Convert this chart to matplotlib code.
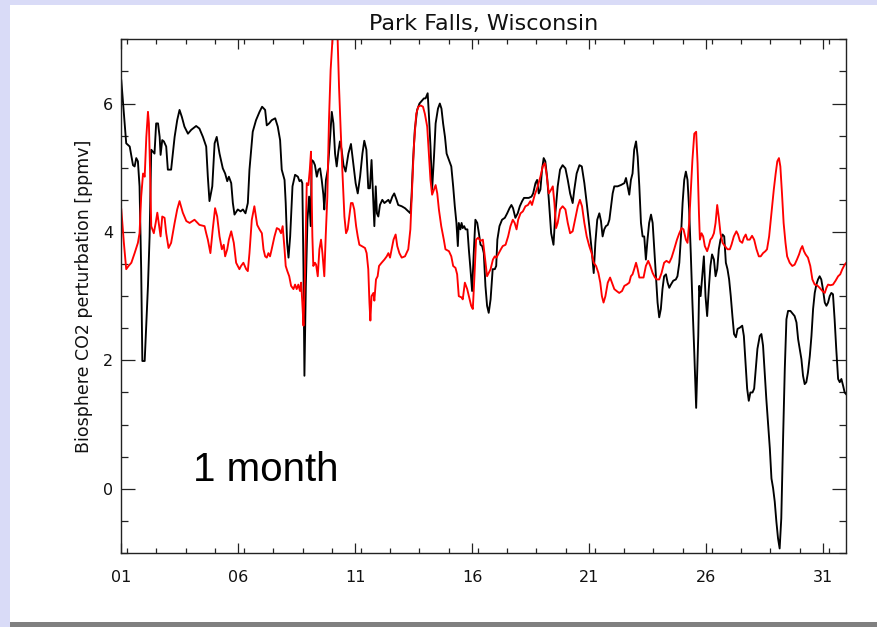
#!/usr/bin/env python3
"""
Park Falls, Wisconsin: biosphere CO2 perturbation over one month,
two hourly model series (black / red).
"""
import numpy as np
import matplotlib
matplotlib.use("Agg")
import matplotlib.pyplot as plt
from matplotlib.patches import Rectangle
from matplotlib.ticker import MultipleLocator, FixedLocator

plt.rcParams["font.family"] = ["DejaVu Sans"]

TITLE = "Park Falls, Wisconsin"
YLABEL = "Biosphere CO2 perturbation [ppmv]"
PERIOD_LABEL = "1 month"

X_TICKS = [1, 6, 11, 16, 21, 26, 31]
X_TICK_LABELS = ["01", "06", "11", "16", "21", "26", "31"]
Y_TICKS = [0, 2, 4, 6]

# (day of month, ppmv)
BLACK = [
    (1.00, 6.36), (1.21, 5.38), (1.36, 5.33), (1.50, 5.04), (1.57, 5.02), (1.64, 5.15),
    (1.71, 5.10), (1.78, 4.71), (1.85, 3.42), (1.90, 1.99), (2.00, 1.99), (2.14, 3.16),
    (2.21, 3.93), (2.28, 5.28), (2.35, 5.25), (2.42, 5.22), (2.49, 5.69), (2.57, 5.69),
    (2.64, 5.48), (2.68, 5.20), (2.75, 5.43), (2.82, 5.41), (2.92, 5.33), (2.99, 4.97),
    (3.13, 4.97), (3.28, 5.48), (3.39, 5.74), (3.49, 5.90), (3.59, 5.79), (3.70, 5.64),
    (3.85, 5.53), (3.99, 5.59), (4.20, 5.65), (4.34, 5.61), (4.49, 5.48), (4.63, 5.33),
    (4.70, 4.86), (4.77, 4.48), (4.89, 4.71), (4.99, 5.38), (5.08, 5.48), (5.20, 5.22),
    (5.34, 4.99), (5.44, 4.91), (5.53, 4.79), (5.60, 4.86), (5.70, 4.76), (5.77, 4.45),
    (5.84, 4.27), (5.98, 4.35), (6.10, 4.32), (6.20, 4.35), (6.31, 4.29), (6.41, 4.45),
    (6.48, 4.97), (6.62, 5.56), (6.76, 5.74), (6.91, 5.87), (7.02, 5.95),
    (7.15, 5.90), (7.22, 5.66), (7.32, 5.69), (7.43, 5.74), (7.58, 5.77), (7.69, 5.64),
    (7.79, 5.43), (7.86, 4.97), (7.98, 4.81), (8.03, 4.45), (8.09, 3.83), (8.15, 3.60),
    (8.22, 3.93), (8.32, 4.71), (8.43, 4.89), (8.55, 4.86), (8.62, 4.79), (8.69, 4.81),
    (8.74, 4.76), (8.79, 3.42), (8.83, 1.76), (8.89, 3.16), (8.96, 4.19), (9.03, 4.55),
    (9.10, 4.09), (9.14, 5.12), (9.21, 5.10), (9.28, 5.04), (9.36, 4.86), (9.43, 4.97),
    (9.50, 4.99), (9.57, 4.81), (9.64, 4.58), (9.68, 4.35), (9.75, 4.81), (9.83, 4.97),
    (9.93, 5.48), (10.00, 5.87), (10.07, 5.69), (10.14, 5.22), (10.21, 5.02), (10.28, 5.25),
    (10.35, 5.41), (10.42, 5.28), (10.50, 5.04), (10.59, 4.94), (10.71, 5.22), (10.82, 5.37),
    (10.92, 5.07), (11.02, 4.76), (11.11, 4.60), (11.21, 4.86), (11.31, 5.22), (11.39, 5.42),
    (11.48, 5.28), (11.56, 4.68), (11.63, 4.68), (11.70, 5.12), (11.78, 4.45), (11.82, 4.09),
    (11.88, 4.71), (11.93, 4.29), (11.99, 4.24), (12.06, 4.42), (12.16, 4.50), (12.25, 4.45),
    (12.35, 4.48), (12.42, 4.50), (12.49, 4.45), (12.59, 4.55), (12.67, 4.60), (12.77, 4.50),
    (12.84, 4.42), (12.99, 4.40), (13.13, 4.37),
    (13.27, 4.32), (13.36, 4.29), (13.41, 4.55), (13.47, 5.07), (13.55, 5.59), (13.65, 5.90),
    (13.75, 6.00), (13.87, 6.05), (13.94, 6.08), (14.01, 6.08), (14.10, 6.16), (14.15, 5.84),
    (14.22, 5.33), (14.29, 4.66), (14.37, 5.17), (14.44, 5.69), (14.54, 5.92), (14.62, 6.00),
    (14.69, 5.92), (14.76, 5.69), (14.84, 5.48), (14.91, 5.22), (15.01, 5.12), (15.11, 5.02),
    (15.19, 4.71), (15.26, 4.40), (15.33, 4.14), (15.39, 3.78), (15.43, 4.14), (15.50, 4.04),
    (15.55, 4.14), (15.60, 4.06), (15.66, 4.09), (15.72, 4.04), (15.80, 4.04), (15.86, 3.73),
    (15.93, 3.42), (16.00, 3.08), (16.07, 3.67), (16.14, 4.19), (16.22, 4.14), (16.29, 3.98),
    (16.36, 3.80), (16.43, 3.78), (16.50, 3.67), (16.57, 3.16), (16.64, 2.85), (16.71, 2.74),
    (16.79, 2.95), (16.88, 3.42), (16.97, 3.42), (17.03, 3.47), (17.08, 3.88), (17.17, 4.09),
    (17.28, 4.19), (17.40, 4.22), (17.50, 4.29), (17.60, 4.37), (17.68, 4.42), (17.75, 4.37),
    (17.85, 4.22), (17.95, 4.29), (18.04, 4.40), (18.14, 4.48), (18.22, 4.53), (18.31, 4.53),
    (18.42, 4.53), (18.54, 4.55), (18.61, 4.60), (18.71, 4.76), (18.78, 4.81), (18.85, 4.60),
    (18.92, 4.66), (18.99, 4.97), (19.06, 5.15), (19.13, 5.10), (19.21, 4.84), (19.28, 4.50),
    (19.38, 3.98), (19.48, 3.80), (19.56, 4.29), (19.66, 4.71), (19.76, 4.97), (19.87, 5.04),
    (19.99, 4.99), (20.09, 4.81), (20.19, 4.60), (20.30, 4.45), (20.37, 4.66), (20.47, 4.91),
    (20.59, 5.04), (20.69, 5.02), (20.80, 4.76), (20.90, 4.45), (21.01, 4.09), (21.11, 3.73),
    (21.20, 3.36), (21.27, 3.83), (21.35, 4.19), (21.44, 4.29), (21.51, 4.17), (21.58, 3.93),
    (21.65, 4.04), (21.72, 4.09), (21.80, 4.11), (21.87, 4.19), (21.94, 4.40), (22.01, 4.60),
    (22.08, 4.71), (22.22, 4.71), (22.36, 4.73), (22.51, 4.76), (22.58, 4.84), (22.65, 4.71),
    (22.72, 4.58), (22.79, 4.81), (22.86, 4.91), (22.93, 5.28), (23.01, 5.41), (23.08, 5.17),
    (23.15, 4.71), (23.22, 4.14), (23.29, 3.93), (23.36, 3.93), (23.43, 3.57), (23.50, 3.88),
    (23.57, 4.14), (23.65, 4.27), (23.72, 4.14), (23.79, 3.73), (23.86, 3.31), (23.93, 2.90),
    (24.00, 2.67), (24.07, 2.80), (24.14, 3.11), (24.21, 3.31), (24.29, 3.34), (24.36, 3.21),
    (24.43, 3.13), (24.50, 3.18), (24.60, 3.24), (24.71, 3.26), (24.78, 3.31), (24.86, 3.52),
    (24.93, 3.93), (25.00, 4.45), (25.07, 4.81), (25.14, 4.94), (25.21, 4.81), (25.28, 4.35),
    (25.35, 3.67), (25.42, 2.90), (25.50, 2.12), (25.58, 1.26),
    (25.67, 2.38), (25.71, 3.16), (25.77, 3.00), (25.84, 3.31), (25.91, 3.62), (25.98, 3.00),
    (26.05, 2.69), (26.12, 3.11), (26.19, 3.47), (26.26, 3.65), (26.34, 3.57), (26.41, 3.31),
    (26.48, 3.42), (26.55, 3.73), (26.62, 3.88), (26.71, 3.96), (26.78, 3.93), (26.85, 3.52),
    (26.92, 3.42), (26.99, 3.26), (27.06, 3.00), (27.13, 2.69), (27.20, 2.41), (27.28, 2.36),
    (27.35, 2.49), (27.45, 2.51), (27.55, 2.54), (27.62, 2.38), (27.69, 1.97), (27.76, 1.56),
    (27.83, 1.37), (27.90, 1.50), (27.99, 1.50), (28.06, 1.56), (28.13, 1.87), (28.20, 2.18),
    (28.30, 2.38), (28.37, 2.41), (28.44, 2.23), (28.51, 1.81), (28.58, 1.40), (28.66, 0.99),
    (28.73, 0.63), (28.80, 0.16), (28.87, 0.01), (28.94, -0.20), (29.01, -0.51), (29.08, -0.77),
    (29.15, -0.93), (29.22, -0.46), (29.30, 0.83), (29.37, 1.87), (29.44, 2.64), (29.51, 2.77),
    (29.61, 2.77), (29.72, 2.72), (29.79, 2.69), (29.87, 2.59), (29.94, 2.33), (30.01, 2.18),
    (30.08, 2.02), (30.15, 1.76), (30.22, 1.63), (30.29, 1.66), (30.36, 1.81), (30.44, 2.07),
    (30.51, 2.38), (30.58, 2.80), (30.65, 3.05), (30.72, 3.18), (30.79, 3.26), (30.86, 3.31),
    (30.93, 3.26), (31.00, 3.11), (31.08, 2.90), (31.15, 2.85), (31.22, 2.90), (31.29, 3.00),
    (31.36, 3.05), (31.43, 3.03), (31.50, 2.64), (31.57, 2.18), (31.65, 1.71), (31.72, 1.66),
    (31.79, 1.71), (31.86, 1.61), (31.93, 1.50), (32.00, 1.47),
]

RED = [
    (1.00, 4.35), (1.11, 3.83), (1.21, 3.42), (1.31, 3.47), (1.43, 3.52), (1.57, 3.67),
    (1.71, 3.83), (1.78, 3.98), (1.85, 4.55), (1.93, 4.91), (2.00, 4.86), (2.07, 5.48),
    (2.14, 5.87), (2.18, 5.69), (2.24, 4.81), (2.28, 4.09), (2.39, 3.98), (2.47, 4.14),
    (2.54, 4.30), (2.61, 4.11), (2.68, 3.93), (2.75, 4.24), (2.85, 4.22), (2.92, 3.98),
    (3.02, 3.75), (3.13, 3.83), (3.28, 4.14), (3.39, 4.35), (3.49, 4.48), (3.63, 4.30),
    (3.78, 4.17), (3.92, 4.14), (4.13, 4.19), (4.34, 4.11), (4.56, 4.09), (4.63, 3.98),
    (4.70, 3.88), (4.81, 3.67), (4.91, 4.04), (5.01, 4.37), (5.10, 4.24), (5.20, 3.93),
    (5.30, 3.73), (5.38, 3.80), (5.44, 3.62), (5.53, 3.73), (5.60, 3.88), (5.70, 4.01),
    (5.81, 3.83), (5.91, 3.52), (6.05, 3.42), (6.12, 3.47), (6.22, 3.52), (6.34, 3.42),
    (6.41, 3.39), (6.48, 3.67), (6.58, 4.19), (6.69, 4.40), (6.81, 4.11), (6.91, 4.04),
    (7.01, 3.98), (7.08, 3.73), (7.15, 3.62), (7.22, 3.60), (7.29, 3.67), (7.36, 3.62),
    (7.43, 3.73), (7.55, 3.93), (7.65, 4.06), (7.75, 4.04), (7.83, 3.98), (7.90, 4.09),
    (7.98, 3.73), (8.03, 3.47), (8.10, 3.39), (8.18, 3.31), (8.26, 3.16), (8.36, 3.11),
    (8.43, 3.18), (8.50, 3.11), (8.57, 3.18), (8.64, 3.08), (8.69, 3.21), (8.74, 2.90),
    (8.79, 2.54), (8.86, 3.42), (8.93, 4.76), (9.00, 4.73), (9.06, 4.97), (9.11, 5.25),
    (9.17, 3.93), (9.21, 3.47), (9.28, 3.52), (9.33, 3.49), (9.40, 3.31), (9.47, 3.73),
    (9.54, 3.88), (9.60, 3.67), (9.68, 3.31), (9.74, 3.93), (9.81, 4.55), (9.88, 5.74),
    (9.95, 6.52), (10.03, 7.00), (10.14, 7.50), (10.25, 7.00), (10.31, 6.26), (10.38, 5.59),
    (10.45, 4.97), (10.54, 4.24), (10.61, 3.98), (10.68, 4.04), (10.75, 4.24), (10.82, 4.45),
    (10.89, 4.45), (10.96, 4.35), (11.04, 4.09), (11.11, 3.93), (11.18, 3.80), (11.28, 3.78),
    (11.42, 3.75), (11.49, 3.67), (11.56, 3.42), (11.61, 2.90), (11.65, 2.62), (11.70, 3.00),
    (11.78, 3.05), (11.82, 2.93), (11.89, 3.26), (11.96, 3.31), (12.02, 3.47), (12.13, 3.52),
    (12.25, 3.57), (12.35, 3.62), (12.42, 3.67), (12.49, 3.60), (12.56, 3.73), (12.64, 3.88),
    (12.73, 3.96), (12.80, 3.78), (12.89, 3.67), (12.99, 3.60), (13.13, 3.62),
    (13.27, 3.73), (13.36, 4.04), (13.44, 4.71), (13.51, 5.33), (13.61, 5.84), (13.70, 5.95),
    (13.80, 5.97), (13.90, 5.95), (13.98, 5.84), (14.08, 5.64), (14.15, 5.22), (14.22, 4.81),
    (14.29, 4.58), (14.37, 4.66), (14.44, 4.73), (14.51, 4.60), (14.58, 4.35), (14.68, 4.09),
    (14.79, 3.88), (14.86, 3.73), (15.01, 3.70), (15.11, 3.62), (15.19, 3.47), (15.29, 3.44),
    (15.36, 3.34), (15.43, 3.00), (15.55, 2.98), (15.60, 2.95), (15.69, 3.21), (15.79, 3.11),
    (15.86, 3.00), (15.96, 2.85), (16.03, 2.80), (16.10, 3.31), (16.17, 3.88), (16.26, 3.91),
    (16.36, 3.86), (16.46, 3.88), (16.54, 3.62), (16.64, 3.31), (16.71, 3.36), (16.79, 3.42),
    (16.89, 3.57), (16.97, 3.62), (17.04, 3.60), (17.14, 3.67), (17.23, 3.73), (17.31, 3.78),
    (17.43, 3.80), (17.54, 3.93), (17.64, 4.09), (17.74, 4.19), (17.82, 4.14), (17.90, 4.04),
    (17.97, 4.19), (18.07, 4.29), (18.17, 4.32), (18.28, 4.40), (18.39, 4.42), (18.49, 4.48),
    (18.56, 4.42), (18.68, 4.58), (18.78, 4.68), (18.92, 4.86), (19.02, 5.02), (19.11, 5.07),
    (19.18, 4.91), (19.28, 4.60), (19.38, 4.66), (19.45, 4.71), (19.52, 4.45), (19.59, 4.06),
    (19.66, 4.14), (19.76, 4.35), (19.87, 4.40), (19.99, 4.35), (20.09, 4.14), (20.19, 3.98),
    (20.30, 4.01), (20.42, 4.22), (20.52, 4.40), (20.61, 4.50), (20.70, 4.40), (20.80, 4.14),
    (20.90, 3.93), (21.01, 3.78), (21.11, 3.67), (21.20, 3.52), (21.30, 3.47), (21.40, 3.36),
    (21.48, 3.21), (21.55, 3.00), (21.62, 2.90), (21.70, 3.00), (21.80, 3.21), (21.90, 3.29),
    (21.98, 3.21), (22.08, 3.11), (22.18, 3.08), (22.29, 3.05), (22.41, 3.08), (22.51, 3.16),
    (22.61, 3.18), (22.72, 3.21), (22.79, 3.31), (22.86, 3.34), (22.93, 3.42), (23.01, 3.52),
    (23.08, 3.42), (23.15, 3.29), (23.25, 3.29), (23.33, 3.29), (23.43, 3.47), (23.53, 3.55),
    (23.62, 3.47), (23.72, 3.36), (23.82, 3.29), (23.90, 3.26), (24.00, 3.26), (24.10, 3.36),
    (24.21, 3.52), (24.31, 3.55), (24.43, 3.52), (24.53, 3.60), (24.64, 3.73), (24.76, 3.88),
    (24.86, 3.98), (24.96, 4.06), (25.04, 4.04), (25.14, 3.88), (25.21, 3.83), (25.28, 4.14),
    (25.35, 4.63), (25.42, 5.12), (25.50, 5.53), (25.58, 5.56),
    (25.64, 5.07), (25.70, 4.29), (25.74, 3.88), (25.81, 3.98), (25.88, 3.93), (25.95, 3.78),
    (26.05, 3.70), (26.12, 3.78), (26.19, 3.88), (26.26, 3.91), (26.34, 3.98), (26.41, 4.14),
    (26.48, 4.42), (26.55, 4.22), (26.62, 3.98), (26.71, 3.83), (26.81, 3.78), (26.92, 3.73),
    (27.02, 3.73), (27.09, 3.80), (27.19, 3.93), (27.30, 4.01), (27.37, 3.96), (27.45, 3.86),
    (27.55, 3.83), (27.62, 3.91), (27.70, 3.96), (27.77, 3.88), (27.87, 3.88), (27.97, 3.94),
    (28.06, 3.88), (28.16, 3.73), (28.26, 3.62), (28.34, 3.62), (28.44, 3.67), (28.54, 3.70),
    (28.61, 3.73), (28.70, 3.93), (28.80, 4.29), (28.90, 4.66), (28.98, 4.91), (29.05, 5.10),
    (29.12, 5.15), (29.18, 5.02), (29.25, 4.60), (29.32, 4.14), (29.40, 3.83), (29.47, 3.62),
    (29.58, 3.52), (29.69, 3.47), (29.79, 3.49), (29.89, 3.57), (29.98, 3.65), (30.05, 3.73),
    (30.12, 3.78), (30.19, 3.70), (30.26, 3.65), (30.36, 3.60), (30.46, 3.47), (30.55, 3.26),
    (30.65, 3.18), (30.75, 3.17), (30.86, 3.13), (30.98, 3.08), (31.08, 3.05), (31.15, 3.13),
    (31.22, 3.18), (31.32, 3.17), (31.43, 3.18), (31.54, 3.24), (31.65, 3.31), (31.74, 3.34),
    (31.83, 3.42), (31.93, 3.49), (32.00, 3.52),
]

W, H = 877, 627
LAVENDER = "#d9dbf7"


def main():
    fig = plt.figure(figsize=(W / 100, H / 100), dpi=100, facecolor="white")

    # slide-style framing: lavender strips on top/left, grey rule at the bottom
    fig.patches.append(Rectangle((0, 1 - 5 / H), 1, 5 / H, transform=fig.transFigure,
                                 facecolor=LAVENDER, edgecolor="none", zorder=0))
    fig.patches.append(Rectangle((0, 0), 10 / W, 1, transform=fig.transFigure,
                                 facecolor=LAVENDER, edgecolor="none", zorder=0))
    fig.patches.append(Rectangle((10 / W, 0), 1, 5 / H, transform=fig.transFigure,
                                 facecolor="#808080", edgecolor="none", zorder=0))

    ax = fig.add_axes([121.3 / W, 1 - 553 / H, 725 / W, 513.7 / H])

    bd, bv = np.array(BLACK).T
    rd, rv = np.array(RED).T
    ax.plot(bd, bv, color="black", lw=1.35, solid_joinstyle="round")
    ax.plot(rd, rv, color="#ff0000", lw=1.35, solid_joinstyle="round")

    ax.set_xlim(1, 32)
    ax.set_ylim(-1, 7)

    ax.xaxis.set_major_locator(FixedLocator(X_TICKS))
    ax.set_xticklabels(X_TICK_LABELS)
    ax.xaxis.set_minor_locator(MultipleLocator(1.25))
    ax.yaxis.set_major_locator(FixedLocator(Y_TICKS))
    ax.yaxis.set_minor_locator(MultipleLocator(0.5))

    ax.tick_params(which="both", direction="in", top=True, right=True,
                   width=0.9, color="#222222", labelsize=11.5, labelcolor="#111111")
    ax.xaxis.set_tick_params(which="major", length=7.2, pad=12)
    ax.xaxis.set_tick_params(which="minor", length=3.6)
    ax.yaxis.set_tick_params(which="major", length=10.4, pad=6)
    ax.yaxis.set_tick_params(which="minor", length=5.2)
    for s in ax.spines.values():
        s.set_linewidth(1.0)
        s.set_color("#222222")

    ax.set_title(TITLE, fontsize=16, pad=7, color="#111111")
    ax.set_ylabel(YLABEL, fontsize=12.5, color="#111111")
    ax.yaxis.set_label_coords(-0.0514, 0.5)
    ax.yaxis.label.set_verticalalignment("center")

    ax.text(0.099, 0.14, PERIOD_LABEL, transform=ax.transAxes,
            family="Liberation Sans", fontsize=29, ha="left", va="baseline")

    fig.savefig("out.png", dpi=100, facecolor=fig.get_facecolor())
    plt.close(fig)


if __name__ == "__main__":
    main()
